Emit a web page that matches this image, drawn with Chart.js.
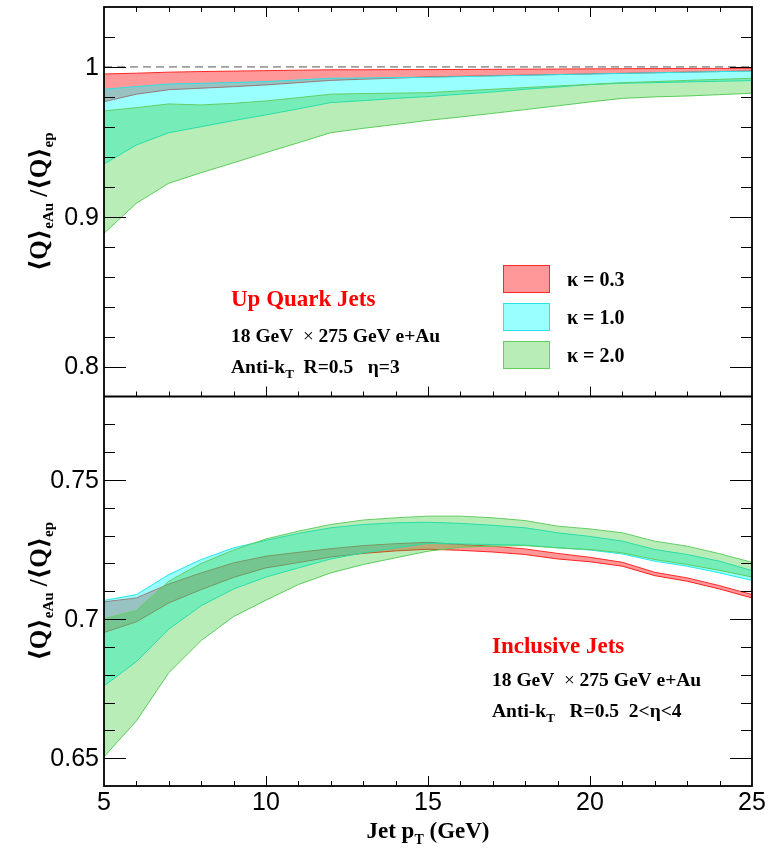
<!DOCTYPE html>
<html>
<head>
<meta charset="utf-8">
<script src="https://cdn.jsdelivr.net/npm/chart.js@4.4.0/dist/chart.umd.min.js"></script>
<style>
  html, body { margin: 0; padding: 0; background: #fff; }
  #wrap { width: 769px; height: 853px; position: relative; }
</style>
</head>
<body>
<div id="wrap"><canvas id="chart" width="769" height="853"></canvas></div>
<script>
// jet pT bins (GeV)
const ptBins = [5, 6, 7, 8, 9, 10, 11, 12, 13, 14, 15, 16, 17, 18, 19, 20, 21, 22, 23, 24, 25];

// top panel: up quark jets, <Q>eAu/<Q>ep bands
const upK03Hi = [0.9953, 0.9958, 0.9965, 0.9969, 0.9972, 0.9975, 0.9978, 0.9981, 0.9981, 0.9982, 0.9982, 0.9983, 0.9984, 0.9985, 0.9986, 0.9987, 0.9988, 0.9989, 0.9990, 0.9990, 0.9991];
const upK03Lo = [0.9768, 0.9818, 0.9848, 0.9858, 0.9868, 0.9880, 0.9895, 0.9910, 0.9918, 0.9925, 0.9933, 0.9937, 0.9941, 0.9945, 0.9949, 0.9953, 0.9957, 0.9961, 0.9965, 0.9969, 0.9974];
const upK10Hi = [0.9851, 0.9869, 0.9886, 0.9890, 0.9896, 0.9902, 0.9913, 0.9924, 0.9926, 0.9929, 0.9931, 0.9935, 0.9940, 0.9944, 0.9949, 0.9953, 0.9957, 0.9961, 0.9965, 0.9969, 0.9972];
const upK10Lo = [0.9352, 0.9479, 0.9561, 0.9601, 0.9642, 0.9680, 0.9720, 0.9762, 0.9775, 0.9790, 0.9802, 0.9818, 0.9833, 0.9851, 0.9866, 0.9882, 0.9891, 0.9895, 0.9900, 0.9904, 0.9909];
const upK20Hi = [0.9706, 0.9728, 0.9753, 0.9746, 0.9757, 0.9773, 0.9795, 0.9818, 0.9822, 0.9825, 0.9828, 0.9840, 0.9851, 0.9862, 0.9873, 0.9884, 0.9895, 0.9902, 0.9910, 0.9917, 0.9924];
const upK20Lo = [0.8889, 0.9090, 0.9223, 0.9294, 0.9360, 0.9428, 0.9494, 0.9561, 0.9590, 0.9616, 0.9643, 0.9666, 0.9690, 0.9715, 0.9740, 0.9766, 0.9790, 0.9800, 0.9806, 0.9815, 0.9824];

// bottom panel: inclusive jets
const incK03Hi = [0.7062, 0.7076, 0.7126, 0.7166, 0.7202, 0.7226, 0.7240, 0.7253, 0.7264, 0.7271, 0.7276, 0.7268, 0.7262, 0.7252, 0.7236, 0.7222, 0.7204, 0.7168, 0.7148, 0.7120, 0.7088];
const incK03Lo = [0.6952, 0.6990, 0.7058, 0.7106, 0.7150, 0.7184, 0.7203, 0.7223, 0.7236, 0.7245, 0.7251, 0.7247, 0.7241, 0.7232, 0.7216, 0.7206, 0.7190, 0.7156, 0.7136, 0.7108, 0.7076];
const incK10Hi = [0.7067, 0.7088, 0.7160, 0.7214, 0.7256, 0.7283, 0.7308, 0.7328, 0.7340, 0.7346, 0.7348, 0.7344, 0.7337, 0.7328, 0.7310, 0.7297, 0.7280, 0.7250, 0.7232, 0.7208, 0.7174];
const incK10Lo = [0.6760, 0.6847, 0.6964, 0.7048, 0.7108, 0.7151, 0.7184, 0.7216, 0.7238, 0.7256, 0.7272, 0.7270, 0.7268, 0.7266, 0.7256, 0.7248, 0.7234, 0.7208, 0.7190, 0.7166, 0.7139];
const incK20Hi = [0.7001, 0.7031, 0.7136, 0.7200, 0.7248, 0.7288, 0.7316, 0.7340, 0.7356, 0.7364, 0.7370, 0.7370, 0.7364, 0.7354, 0.7334, 0.7324, 0.7310, 0.7280, 0.7262, 0.7235, 0.7204];
const incK20Lo = [0.6505, 0.6634, 0.6807, 0.6923, 0.7009, 0.7068, 0.7124, 0.7166, 0.7196, 0.7220, 0.7244, 0.7258, 0.7262, 0.7264, 0.7256, 0.7250, 0.7238, 0.7214, 0.7196, 0.7175, 0.7151];

// reference line at ratio 1
const unityX = [5, 25];
const unityY = [1, 1];

// axis ticks
const xMajor = [5, 10, 15, 20, 25];
const topMajor = [0.8, 0.9, 1.0];
const topLabels = ['0.8', '0.9', '1'];
const botMajor = [0.65, 0.7, 0.75];
const botLabels = ['0.65', '0.7', '0.75'];
const kappaLabels = ['\u03ba = 0.3', '\u03ba = 1.0', '\u03ba = 2.0'];

const RED = { fill: 'rgba(255,0,0,0.4)', edge: 'rgb(255,40,40)', box: 'rgb(255,153,153)' };
const CYAN = { fill: 'rgba(0,255,255,0.4)', edge: 'rgb(40,228,228)', box: 'rgb(153,255,255)' };
const GREEN = { fill: 'rgba(51,204,51,0.35)', edge: 'rgb(100,205,100)', box: 'rgb(184,237,184)' };

const SERIF = '"Liberation Serif", "Times New Roman", "DejaVu Serif", serif';
const SANS = '"Liberation Sans", Arial, Helvetica, sans-serif';

function toXY(xs, ys) {
    return xs.map((x, i) => ({ x: x, y: ys[i] }));
}

function band(hi, lo, axis, col, order) {
    return [{
        data: toXY(ptBins, hi),
        yAxisID: axis,
        borderColor: col.edge,
        backgroundColor: col.fill,
        borderWidth: 1,
        fill: '+1',
        pointRadius: 0,
        tension: 0,
        order: order
    }, {
        data: toXY(ptBins, lo),
        yAxisID: axis,
        borderColor: col.edge,
        borderWidth: 1,
        fill: false,
        pointRadius: 0,
        tension: 0,
        order: order
    }];
}

const datasets = [].concat(
    band(upK03Hi, upK03Lo, 'yTop', RED, 3),
    band(upK10Hi, upK10Lo, 'yTop', CYAN, 2),
    band(upK20Hi, upK20Lo, 'yTop', GREEN, 1),
    band(incK03Hi, incK03Lo, 'yBot', RED, 3),
    band(incK10Hi, incK10Lo, 'yBot', CYAN, 2),
    band(incK20Hi, incK20Lo, 'yBot', GREEN, 1),
    [{
        data: toXY(unityX, unityY),
        yAxisID: 'yTop',
        borderColor: '#555',
        borderWidth: 1,
        borderDash: [8, 5],
        fill: false,
        pointRadius: 0,
        order: 0
    }]
);

// text with sub-scripts: parts = [text, font, dy]
function richText(ctx, parts, x, y, align) {
    let w = 0;
    parts.forEach(p => { ctx.font = p[1]; w += ctx.measureText(p[0]).width; });
    let cx = align === 'center' ? x - w / 2 : x;
    parts.forEach(p => {
        ctx.font = p[1];
        ctx.fillText(p[0], cx, y + (p[2] || 0));
        cx += ctx.measureText(p[0]).width;
    });
}

function hline(ctx, x0, x1, y) {
    ctx.beginPath(); ctx.moveTo(x0, y); ctx.lineTo(x1, y); ctx.stroke();
}
function vline(ctx, x, y0, y1) {
    ctx.beginPath(); ctx.moveTo(x, y0); ctx.lineTo(x, y1); ctx.stroke();
}

function yTicks(ctx, scale, area, step, majors, labels) {
    const n = Math.round((scale.max - scale.min) / step);
    ctx.lineWidth = 1;
    for (let i = 1; i < n; i++) {
        const v = scale.min + i * step;
        const big = majors.some(m => Math.abs(m - v) < 1e-6);
        const y = Math.round(scale.getPixelForValue(v)) + 0.5;
        const len = big ? 22 : 11;
        hline(ctx, area.left, area.left + len, y);
        hline(ctx, area.right, area.right - len, y);
    }
    ctx.font = '25px ' + SANS;
    ctx.textAlign = 'right';
    ctx.textBaseline = 'middle';
    majors.forEach((m, i) => ctx.fillText(labels[i], area.left - 5, scale.getPixelForValue(m) + 1));
}

function xTicks(ctx, xs, y, dir) {
    for (let v = xs.min + 1; v < xs.max; v++) {
        const big = xMajor.includes(v);
        const x = Math.round(xs.getPixelForValue(v)) + 0.5;
        vline(ctx, x, y, y + dir * (big ? 10 : 5));
    }
}

function yTitle(ctx, cx, cy) {
    ctx.save();
    ctx.translate(cx, cy);
    ctx.rotate(-Math.PI / 2);
    ctx.textAlign = 'left';
    ctx.textBaseline = 'alphabetic';
    const big = 'bold 25px ' + SERIF;
    const sub = 'bold 15px ' + SERIF;
    richText(ctx, [
        ['\u27e8Q\u27e9', big, 0], ['eAu', sub, 6], [' /', big, 0],
        ['\u27e8Q\u27e9', big, 0], ['ep', sub, 6]
    ], 0, 0, 'center');
    ctx.restore();
}

const framePlugin = {
    id: 'panelFrame',
    afterDraw(chart) {
        const ctx = chart.ctx;
        const area = chart.chartArea;
        const xs = chart.scales.x;
        const yT = chart.scales.yTop;
        const yB = chart.scales.yBot;
        const mid = yT.bottom;

        ctx.save();
        ctx.strokeStyle = '#000';
        ctx.fillStyle = '#000';

        // frames
        ctx.lineWidth = 1.8;
        ctx.strokeRect(area.left, area.top, area.right - area.left, area.bottom - area.top);
        hline(ctx, area.left, area.right, mid);

        // ticks
        ctx.lineWidth = 1;
        xTicks(ctx, xs, area.top, 1);
        xTicks(ctx, xs, mid, -1);
        xTicks(ctx, xs, area.bottom, -1);
        yTicks(ctx, yT, area, 0.02, topMajor, topLabels);
        yTicks(ctx, yB, area, 0.01, botMajor, botLabels);

        // x tick labels
        ctx.font = '25px ' + SANS;
        ctx.textAlign = 'center';
        ctx.textBaseline = 'top';
        xMajor.forEach(v => ctx.fillText(String(v), xs.getPixelForValue(v), area.bottom + 5));

        // axis titles
        ctx.textAlign = 'left';
        ctx.textBaseline = 'alphabetic';
        richText(ctx, [
            ['Jet p', 'bold 23px ' + SERIF, 0], ['T', 'bold 14px ' + SERIF, 6], [' (GeV)', 'bold 23px ' + SERIF, 0]
        ], xs.getPixelForValue(15), 838, 'center');
        yTitle(ctx, 47, (yT.top + yT.bottom) / 2);
        yTitle(ctx, 47, (yB.top + yB.bottom) / 2);

        // panel captions
        const x0 = 231;
        ctx.fillStyle = '#ff0000';
        ctx.font = 'bold 23px ' + SERIF;
        ctx.fillText('Up Quark Jets', x0, 306);
        ctx.fillText('Inclusive Jets', 492, 653);
        ctx.fillStyle = '#000';
        const t19 = 'bold 19.5px ' + SERIF;
        const s12 = 'bold 13px ' + SERIF;
        const times = '19px ' + SERIF;
        richText(ctx, [['18 GeV  ', t19], ['\u00d7', times], [' 275 GeV e+Au', t19]], x0, 342);
        richText(ctx, [['Anti-k', t19], ['T', s12, 5], ['  R=0.5   \u03b7=3', t19]], x0, 373);
        richText(ctx, [['18 GeV  ', t19], ['\u00d7', times], [' 275 GeV e+Au', t19]], 492, 686);
        richText(ctx, [['Anti-k', t19], ['T', s12, 5], ['   R=0.5  2<\u03b7<4', t19]], 492, 717);

        // legend
        const cols = [RED, CYAN, GREEN];
        cols.forEach((c, i) => {
            const top = 265 + i * 38;
            ctx.fillStyle = c.box;
            ctx.fillRect(503, top, 46, 27);
            ctx.strokeStyle = c.edge;
            ctx.lineWidth = 1;
            ctx.strokeRect(503.5, top + 0.5, 46, 27);
            ctx.fillStyle = '#000';
            ctx.font = 'bold 20px ' + SERIF;
            ctx.fillText(kappaLabels[i], 567, top + 21);
        });

        ctx.restore();
    }
};

new Chart(document.getElementById('chart'), {
    type: 'line',
    data: { datasets: datasets },
    options: {
        responsive: false,
        animation: false,
        devicePixelRatio: 1,
        layout: { padding: { left: 104, right: 17, top: 7, bottom: 67 } },
        plugins: {
            legend: { display: false },
            tooltip: { enabled: false }
        },
        scales: {
            x: { type: 'linear', min: 5, max: 25, display: false },
            yTop: {
                type: 'linear', position: 'left', min: 0.78, max: 1.04,
                display: false, stack: 'panels', stackWeight: 1, weight: 1
            },
            yBot: {
                type: 'linear', position: 'left', min: 0.64, max: 0.78,
                display: false, stack: 'panels', stackWeight: 1, weight: 0
            }
        }
    },
    plugins: [framePlugin]
});
</script>
</body>
</html>
